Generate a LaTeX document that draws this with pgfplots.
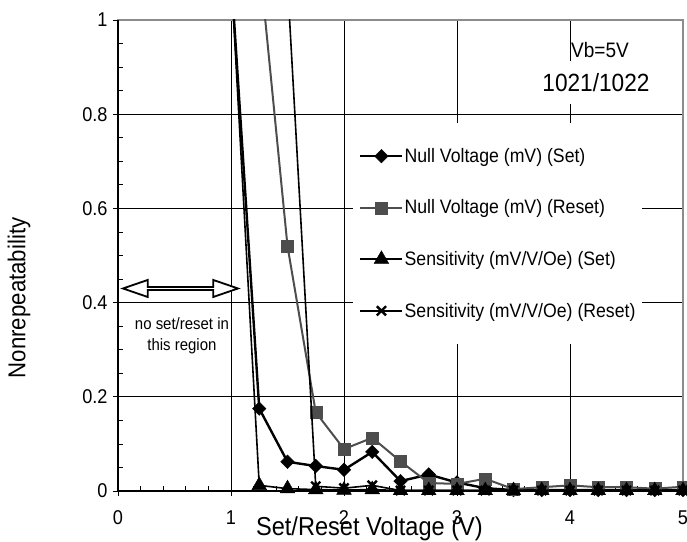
\documentclass[border=0pt]{standalone}
\usepackage{pgfplots}
\pgfplotsset{compat=1.18}
\usepackage{fontspec}
\setmainfont{Liberation Sans}[FakeStretch=0.91]
\usetikzlibrary{shapes.arrows}

\definecolor{resetgray}{HTML}{4D4D4D}
\definecolor{framegray}{HTML}{8C8C8C}

\begin{document}
\begin{tikzpicture}
% page = reference frame, axis box lower left at (0,0)
\useasboundingbox (-118bp,-51bp) rectangle (569bp,491bp);
\clip (-118bp,-51bp) rectangle (569bp,491bp);
\begin{axis}[
    scale only axis, width=565bp, height=471bp,
    xmin=0, xmax=5, ymin=0, ymax=1,
    xtick={0,1,2,3,4,5}, ytick={0,0.2,0.4,0.6,0.8,1},
    minor x tick num=4, minor y tick num=3,
    tick pos=left, tick align=outside,
    major tick length=5bp, minor tick length=-5bp,
    tick style={black, line width=0.8bp},
    grid=major, major grid style={black, line width=0.8bp},
    axis line style={framegray, line width=2.5bp},
    clip mode=individual, clip marker paths=false,
    /pgf/number format/assume math mode=true,
    ticklabel style={font=\fontsize{20}{24}\selectfont},
    xticklabel style={anchor=base, yshift=-28bp},
    yticklabel style={anchor=east, xshift=-2bp},
    xlabel={Set/Reset Voltage (V)},
    ylabel={Nonrepeatability},
    xlabel style={at={(axis description cs:0.445,-0.095)}, anchor=base,
        font=\fontsize{26}{31}\selectfont},
    ylabel style={at={(axis description cs:-0.1752,0.41)}, anchor=center,
        font=\fontsize{24.5}{30}\selectfont},
    legend cell align=left,
    legend style={at={(axis cs:2.08,0.781)}, anchor=north west, draw=none,
        fill=white, inner xsep=6bp, inner ysep=24bp, row sep=34bp,
        font=\fontsize{19.5}{23}\selectfont, nodes={inner sep=1bp}},
    legend image code/.code={\draw[mark repeat=2,mark phase=2,#1]
        plot coordinates {(0bp,0bp) (21bp,0bp) (42bp,0bp)};},
]
\draw[black, line width=2bp] (rel axis cs:0,1) -- (rel axis cs:0,0) -- (rel axis cs:1,0);

\addplot[black, line width=2.4bp, mark=square*, mark size=4.8bp,
    mark options={rotate=45, solid, line width=0.4bp}] coordinates {
    (1.00,1.10) (1.25,0.175) (1.50,0.062) (1.75,0.053) (2.00,0.045)
    (2.25,0.083) (2.50,0.021) (2.75,0.035) (3.00,0.018) (3.25,0.006)
    (3.50,0.002) (3.75,0.002) (4.00,0.002) (4.25,0.002) (4.50,0.002)
    (4.75,0.002) (5.00,0.002)
};
\addlegendentry{Null Voltage (mV) (Set)}

\addplot[resetgray, line width=2bp, mark=square*, mark size=6bp,
    mark options={solid, fill=resetgray, line width=0.4bp}] coordinates {
    (1.25,1.13) (1.50,0.52) (1.75,0.167) (2.00,0.089) (2.25,0.113)
    (2.50,0.063) (2.75,0.017) (3.00,0.015) (3.25,0.026) (3.50,0.004)
    (3.75,0.008) (4.00,0.012) (4.25,0.008) (4.50,0.008) (4.75,0.005)
    (5.00,0.009)
};
\addlegendentry{Null Voltage (mV) (Reset)}

\addplot[black, line width=1.6bp, mark=triangle*, mark size=8.5bp,
    mark options={solid, line width=0.4bp}] coordinates {
    (1.00,1.10) (1.25,0.012) (1.50,0.005) (1.75,0.003) (2.00,0.002)
    (2.25,0.003) (2.50,0.001) (2.75,0.001) (3.00,0.001) (3.25,0.001)
    (3.50,0.001) (3.75,0.001) (4.00,0.001) (4.25,0.001) (4.50,0.001)
    (4.75,0.001) (5.00,0.001)
};
\addlegendentry{Sensitivity (mV/V/Oe) (Set)}

\addplot[black, line width=1.6bp, mark=x, mark size=6.5bp,
    mark options={solid, line width=2.4bp}] coordinates {
    (1.50,1.08) (1.75,0.010) (2.00,0.006) (2.25,0.012) (2.50,0.001)
    (2.75,0.001) (3.00,0.001) (3.25,0.001) (3.50,0.001) (3.75,0.001)
    (4.00,0.001) (4.25,0.001) (4.50,0.001) (4.75,0.001) (5.00,0.001)
};
\addlegendentry{Sensitivity (mV/V/Oe) (Reset)}

\node[double arrow, draw=black, fill=white, line width=1.8bp,
    minimum height=115bp, minimum width=17bp, inner sep=0pt,
    double arrow head extend=4bp, double arrow tip angle=38]
    at (axis cs:0.553,0.430) {};
\node[fill=white, inner sep=2bp, align=center,
    font=\fontsize{16.5}{21}\selectfont] at (axis cs:0.566,0.33)
    {no set/reset in\\this region};
\node[anchor=west, inner sep=1bp, font=\fontsize{21}{25}\selectfont]
    at (axis cs:4.0,0.937) {Vb=5V};
\node[fill=white, inner xsep=3bp, inner ysep=12bp,
    font=\fontsize{25}{30}\selectfont] at (axis cs:4.23,0.867) {1021/1022};
\end{axis}
\end{tikzpicture}
\end{document}
